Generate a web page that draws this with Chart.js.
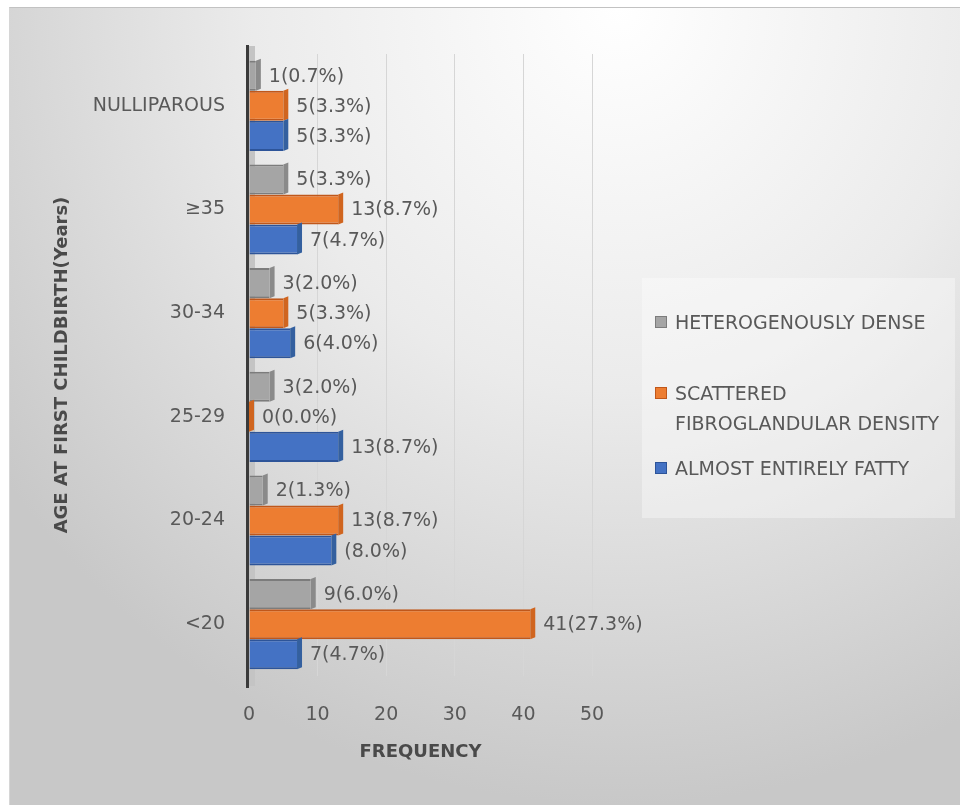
<!DOCTYPE html>
<html>
<head>
<meta charset="utf-8">
<script src="https://cdn.jsdelivr.net/npm/chart.js@4.4.1/dist/chart.umd.min.js"></script>
<style>
  html, body { margin: 0; padding: 0; background: #fff; }
  body { width: 960px; height: 805px; position: relative; overflow: hidden; font-family: "DejaVu Sans", sans-serif; }
  #frame {
    position: absolute; left: 9px; top: 7px; right: 0; bottom: 0;
    border-top: 1px solid #c2c2c2; border-left: 1px solid #d6d6d6;
    background: radial-gradient(ellipse 80% 100% at 64% 0%, #ffffff 0%, #ebebeb 48%, #c8c8c8 100%);
  }
  #chart { position: absolute; left: 0; top: 0; }
  #legend {
    position: absolute; left: 642px; top: 278px; width: 313px; height: 240px;
    background: rgba(255, 255, 255, 0.35); box-sizing: border-box; padding: 29px 0 0 13px;
  }
  .item { display: flex; align-items: flex-start; color: #595959; font-size: 19px; line-height: 30px; margin-bottom: 15px; }
  .item:first-child { margin-bottom: 41px; }
  .swatch { width: 10px; height: 10px; margin: 9px 8px 0 0; flex: none; border: 1px solid; }
  .item span { width: 280px; white-space: normal; }
</style>
</head>
<body>
<div id="frame"></div>
<canvas id="chart" width="960" height="805"></canvas>
<div id="legend"></div>
<script>
const categories = ['NULLIPAROUS', '≥35', '30-34', '25-29', '20-24', '<20'];
const seriesNames = ['HETEROGENOUSLY DENSE', 'SCATTERED FIBROGLANDULAR DENSITY', 'ALMOST ENTIRELY FATTY'];
const denseValues = [1, 5, 3, 3, 2, 9];
const scatteredValues = [5, 13, 5, 0, 13, 41];
const fattyValues = [5, 7, 6, 13, 12, 7];
const totalWomen = 150;
const xTicks = [0, 10, 20, 30, 40, 50];

const fillColors = ['#a5a5a5', '#ed7d31', '#4472c4'];
const edgeColors = ['#7c7c7c', '#c0571a', '#2d5499'];
const sideColors = ['#8a8a8a', '#d0651f', '#34609f'];

// the 20-24 fatty label only carries the percentage
const percentOnly = [[2, 4]];

const textColor = '#595959';
const labelFont = { family: '"DejaVu Sans", sans-serif', size: 19 };
const titleFont = { family: '"DejaVu Sans", sans-serif', size: 18, weight: 'bold' };

const barLabel = (ds, i, v) => {
    const pct = (v / totalWomen * 100).toFixed(1) + '%';
    const bare = percentOnly.some(p => p[0] === ds && p[1] === i);
    return bare ? '(' + pct + ')' : v + '(' + pct + ')';
};

// back wall, axis line, bar depth and value labels
const excel3d = {
    id: 'excel3d',
    beforeDatasetsDraw(chart) {
        const { ctx, chartArea: a } = chart;
        ctx.save();
        ctx.fillStyle = '#c4c4c4';
        ctx.fillRect(a.left, a.top - 8, 6, a.bottom - a.top + 18);
        ctx.fillStyle = '#3a3a3a';
        ctx.fillRect(a.left - 3, a.top - 9, 3, a.bottom - a.top + 21);
        ctx.restore();
    },
    afterDatasetsDraw(chart) {
        const { ctx } = chart;
        const d = 5;
        ctx.save();
        chart.data.datasets.forEach((ds, di) => {
            chart.getDatasetMeta(di).data.forEach(bar => {
                const top = bar.y - bar.height / 2;
                const bottom = bar.y + bar.height / 2;
                ctx.fillStyle = sideColors[di];
                ctx.beginPath();
                ctx.moveTo(bar.x, top);
                ctx.lineTo(bar.x + d, top - 2);
                ctx.lineTo(bar.x + d, bottom - 2);
                ctx.lineTo(bar.x, bottom);
                ctx.closePath();
                ctx.fill();
            });
        });
        ctx.fillStyle = textColor;
        ctx.font = labelFont.size + 'px ' + labelFont.family;
        ctx.textAlign = 'left';
        ctx.textBaseline = 'middle';
        chart.data.datasets.forEach((ds, di) => {
            chart.getDatasetMeta(di).data.forEach((bar, i) => {
                ctx.fillText(barLabel(di, i, ds.data[i]), bar.x + 13, bar.y + 1);
            });
        });
        ctx.restore();
    }
};

const seriesValues = [denseValues, scatteredValues, fattyValues];

new Chart(document.getElementById('chart'), {
    type: 'bar',
    data: {
        labels: categories,
        datasets: seriesValues.map((vals, i) => ({
            label: seriesNames[i],
            data: vals,
            backgroundColor: fillColors[i],
            borderColor: edgeColors[i],
            borderWidth: { top: 2, right: 0, bottom: 2, left: 0 },
            borderSkipped: false,
            categoryPercentage: 0.87,
            barPercentage: 1.0
        }))
    },
    options: {
        indexAxis: 'y',
        responsive: false,
        animation: false,
        layout: { padding: { left: 10, right: 368, top: 54, bottom: 19 } },
        plugins: { legend: { display: false }, tooltip: { enabled: false } },
        scales: {
            x: {
                min: 0,
                max: 50,
                afterBuildTicks: s => { s.ticks = xTicks.map(v => ({ value: v })); },
                afterFit: s => { s.height = 110; },
                grid: { color: c => c.tick && c.tick.value === 0 ? 'rgba(0,0,0,0)' : '#d6d6d6', drawTicks: false },
                border: { display: false },
                ticks: { padding: 28, color: textColor, font: labelFont },
                title: { display: true, text: 'FREQUENCY', color: '#4a4a4a', font: titleFont, padding: { top: 0, bottom: 23 } }
            },
            y: {
                afterFit: s => { s.width = 239; },
                grid: { display: false, drawTicks: false },
                border: { display: false },
                ticks: { padding: 24, color: textColor, font: labelFont },
                title: { display: true, text: 'AGE AT FIRST CHILDBIRTH(Years)', color: '#4a4a4a', font: titleFont, padding: { top: 42, bottom: 0 } }
            }
        }
    },
    plugins: [excel3d]
});

// legend panel on the right
const legendEl = document.getElementById('legend');
seriesNames.forEach((name, i) => {
    const row = document.createElement('div');
    row.className = 'item';
    row.innerHTML = `<div class="swatch" style="background:${fillColors[i]};border-color:${edgeColors[i]}"></div><span>${name}</span>`;
    legendEl.appendChild(row);
});
</script>
</body>
</html>
